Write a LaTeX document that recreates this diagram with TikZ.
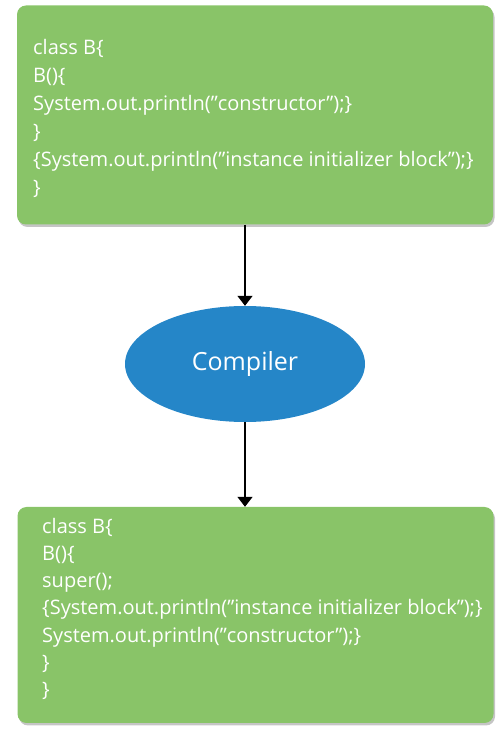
\documentclass[tikz,border=0pt]{standalone}
\usepackage{fontspec}
\setmainfont{Open Sans}
\usetikzlibrary{shapes.geometric,arrows.meta,shadows}
\definecolor{boxgreen}{RGB}{137,196,104}
\definecolor{ellblue}{RGB}{37,134,200}
\tikzset{
  codebox/.style={rectangle, rounded corners=9pt, fill=boxgreen, draw=none,
    minimum width=476pt, minimum height=219pt, inner sep=0pt,
    drop shadow={shadow xshift=1.5pt, shadow yshift=-2.5pt, fill=black!45, opacity=0.5}},
  codetext/.style={anchor=north west, inner sep=0pt, align=left, text=white,
    font=\fontsize{20}{28}\selectfont},
  compiler/.style={ellipse, fill=ellblue, draw=none, minimum width=240pt,
    minimum height=116pt, inner sep=0pt, text=white, font=\fontsize{25}{30}\selectfont},
  flow/.style={line width=1.5pt, -{Triangle[width=15pt,length=10pt]}}
}
\begin{document}
\begin{tikzpicture}[x=1pt,y=1pt]
\useasboundingbox (0,0) rectangle (502,732);
\node[codebox] (top) at (255,617) {};
\node[codetext] (toptext) at (33,692.5) {class B\{\\B()\{\\System.out.println(”constructor”);\}\\\}\\\{System.out.println(”instance initializer block”);\}\\\}};
\node[compiler] (comp) at (245,368) {Compiler};
\node[codebox, minimum height=216pt] (bot) at (255.5,117) {};
\node[codetext, font=\fontsize{20}{27.2}\selectfont] (bottext) at (42,214) {class B\{\\B()\{\\super();\\\{System.out.println(”instance initializer block”);\}\\System.out.println(”constructor”);\}\\\}\\\}};
\draw[flow] (comp.north |- top.south) -- (comp.north);
\draw[flow] (comp.south) -- (comp.south |- bot.north);
\end{tikzpicture}
\end{document}
